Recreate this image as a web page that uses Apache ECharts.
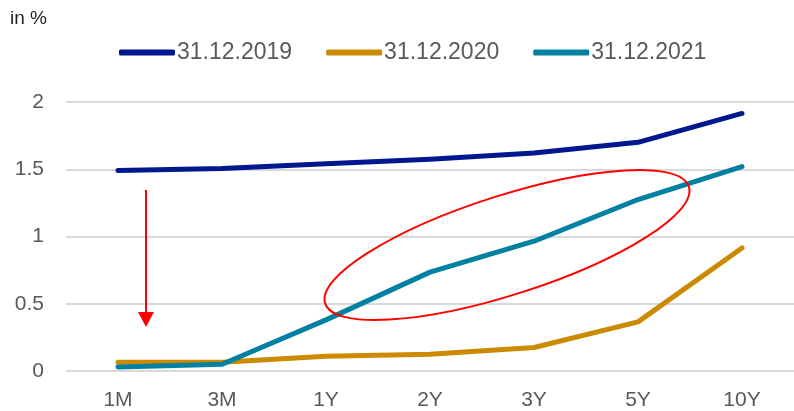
<!DOCTYPE html>
<html>
<head>
<meta charset="utf-8">
<script src="https://cdn.jsdelivr.net/npm/echarts@6/dist/echarts.min.js"></script>
<style>
  html, body { margin: 0; padding: 0; background: #fff; }
  #chart { width: 794px; height: 411px; }
</style>
</head>
<body>
<div id="chart"></div>
<script>
// laufzeiten
var maturities = ["1M", "3M", "1Y", "2Y", "3Y", "5Y", "10Y"];
var yTicks = [0, 0.5, 1, 1.5, 2];
var seriesNames = ["31.12.2019", "31.12.2020", "31.12.2021"];
var y2019 = [1.49, 1.505, 1.54, 1.575, 1.62, 1.70, 1.915];
var y2020 = [0.065, 0.065, 0.11, 0.125, 0.175, 0.365, 0.915];
var y2021 = [0.03, 0.05, 0.38, 0.735, 0.965, 1.275, 1.52];

var colors = ["#00188f", "#cc8a00", "#0081a1"];
var txt = "#595959";

var chart = echarts.init(document.getElementById("chart"));

var option = {
  animation: false,
  color: colors,
  textStyle: { fontFamily: "Liberation Sans, Arial, sans-serif" },
  legend: {
    top: 36,
    left: 114,
    icon: "roundRect",
    itemWidth: 56,
    itemHeight: 6,
    itemGap: 34,
    data: seriesNames,
    textStyle: { color: txt, fontSize: 23, padding: [0, 0, 0, -3] }
  },
  grid: { left: 66, right: 0, top: 102, bottom: 40 },
  xAxis: {
    type: "category",
    data: maturities,
    boundaryGap: true,
    axisLine: { show: false },
    axisTick: { show: false },
    axisLabel: { color: txt, fontSize: 21, margin: 19 }
  },
  yAxis: {
    type: "value",
    min: yTicks[0],
    max: yTicks[yTicks.length - 1],
    interval: 0.5,
    axisLabel: { color: txt, fontSize: 21, margin: 22 },
    splitLine: { lineStyle: { color: "#d9d9d9", width: 2 } }
  },
  series: [
    { name: seriesNames[0], type: "line", data: y2019, symbol: "none",
      lineStyle: { width: 5, cap: "round", join: "round" } },
    { name: seriesNames[1], type: "line", data: y2020, symbol: "none",
      lineStyle: { width: 5, cap: "round", join: "round" } },
    { name: seriesNames[2], type: "line", data: y2021, symbol: "none",
      lineStyle: { width: 5, cap: "round", join: "round" } }
  ],
  graphic: [
    { type: "text", left: 10, top: 9,
      style: { text: "in %", fill: "#222", fontSize: 19, fontFamily: "Liberation Sans, Arial, sans-serif" } },
    // roter pfeil
    { type: "line", shape: { x1: 146, y1: 190, x2: 146, y2: 314 },
      style: { stroke: "#ff0000", lineWidth: 2 }, z: 100 },
    { type: "polygon", shape: { points: [[138, 312], [154, 312], [146, 327]] },
      style: { fill: "#ff0000" }, z: 100 },
    // rote ellipse
    { type: "ellipse", x: 507, y: 245, rotation: 17.8 * Math.PI / 180,
      shape: { cx: 0, cy: 0, rx: 191, ry: 49.5 },
      style: { fill: "none", stroke: "#ff0000", lineWidth: 2 }, z: 100 }
  ]
};

chart.setOption(option);
</script>
</body>
</html>
